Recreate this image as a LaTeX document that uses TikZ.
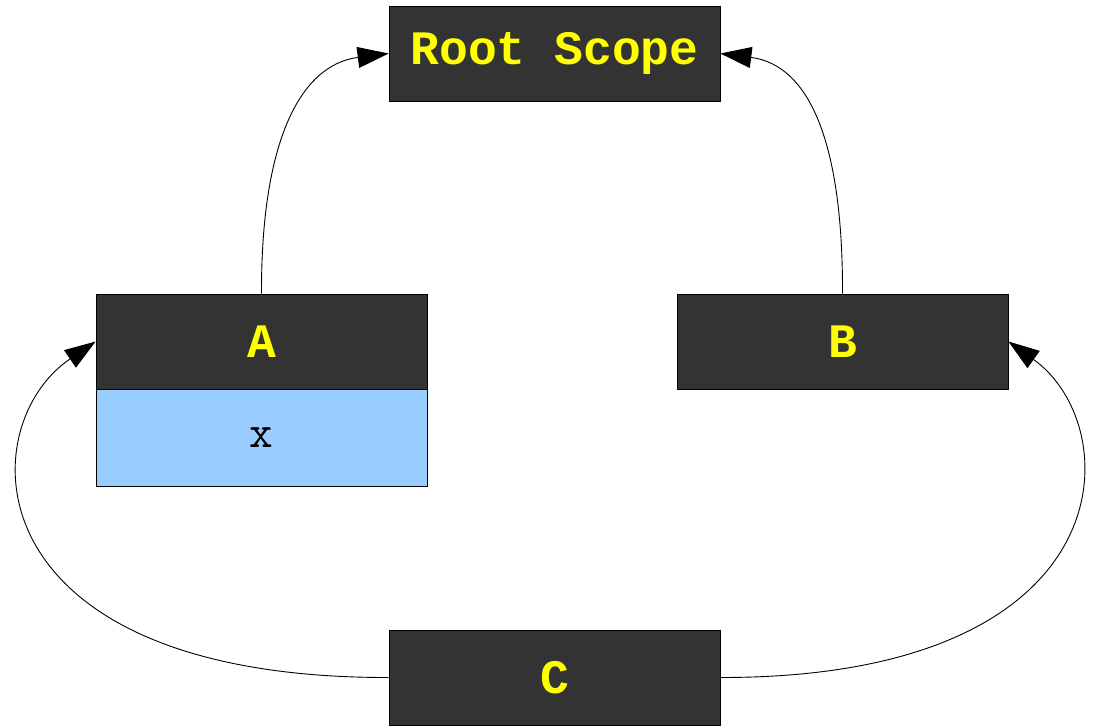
\documentclass[tikz,border=0pt]{standalone}
\usepackage{fontspec}
\newfontfamily\labelfont{Liberation Mono}
\usetikzlibrary{arrows.meta}
\definecolor{boxdark}{HTML}{333333}
\definecolor{boxblue}{HTML}{99CCFF}
\definecolor{labelyellow}{HTML}{FFFF00}
\begin{document}
\begin{tikzpicture}[x=1pt,y=-1pt,
  darkbox/.style={draw=black,line width=0.8pt,fill=boxdark,minimum width=331pt,minimum height=95pt,inner sep=0pt,
    font=\fontsize{48}{48}\selectfont\labelfont\bfseries,text=labelyellow},
  bluebox/.style={draw=black,line width=0.8pt,fill=boxblue,minimum width=331pt,minimum height=97pt,inner sep=0pt,
    font=\fontsize{46}{46}\selectfont\ttfamily,text=black},
  arr/.style={draw=black,line width=0.9pt,-{Triangle[length=31pt,width=21pt]}}]
\useasboundingbox (0,0) rectangle (1098,726);
\node[darkbox] (root) at (554.5,53.5) {Root Scope};
\node[darkbox] (a) at (261.5,341.5) {A};
\node[bluebox] (ax) at (261.5,437.5) {\raisebox{-3pt}{x}};
\node[darkbox] (b) at (842.5,341.5) {B};
\node[darkbox] (c) at (554.5,677.5) {C};
\draw[arr] (a.north) .. controls (261,144) and (299,65) .. (root.west);
\draw[arr] (b.north) .. controls (843,144) and (810,65) .. (root.east);
\draw[arr] (c.west) .. controls (-30,678) and (-30,427) .. (a.west);
\draw[arr] (c.east) .. controls (1128,678) and (1128,427) .. (b.east);
\end{tikzpicture}
\end{document}
